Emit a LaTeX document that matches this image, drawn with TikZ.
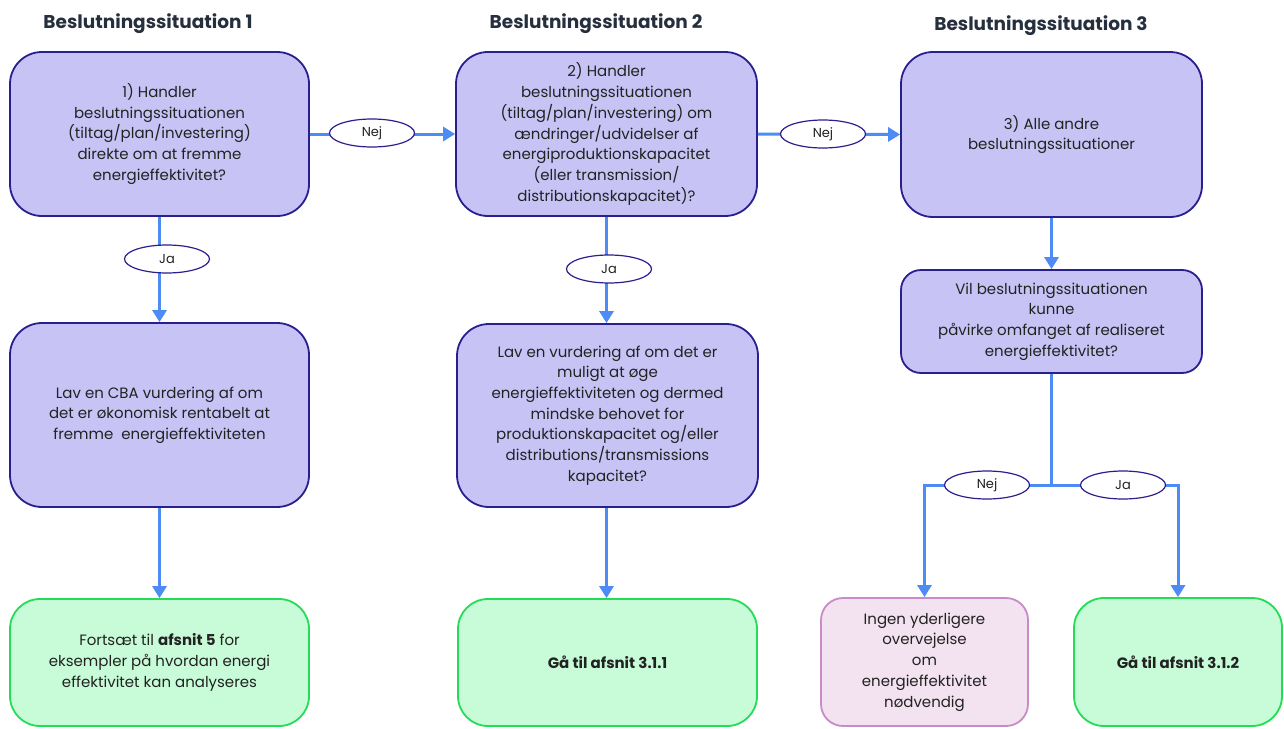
\documentclass[tikz,border=0pt]{standalone}
\usepackage{fontspec}
\setmainfont{Poppins}
\usetikzlibrary{shapes.geometric,arrows.meta}
\definecolor{lav}{HTML}{C8C3F5}
\definecolor{navy}{HTML}{2A1F8F}
\definecolor{grnfill}{HTML}{C8FCD8}
\definecolor{grnline}{HTML}{22DD55}
\definecolor{pinkfill}{HTML}{F3E3F0}
\definecolor{pinkline}{HTML}{C98BC8}
\definecolor{arrblue}{HTML}{4D8BF5}
\definecolor{titlecol}{HTML}{262F3D}
\definecolor{txt}{HTML}{222222}
\tikzset{
  boxbase/.style={rectangle, align=center, text=txt, line width=1.8pt,
    font=\fontsize{15}{20.7}\selectfont, inner sep=4pt},
  qbox/.style={boxbase, draw=navy, fill=lav, rounded corners=32pt},
  gbox/.style={boxbase, draw=grnline, fill=grnfill, rounded corners=30pt},
  pbox/.style={boxbase, draw=pinkline, fill=pinkfill, rounded corners=22pt},
  lbl/.style={ellipse, draw=navy, fill=white, line width=1.2pt, minimum width=85pt,
    minimum height=28pt, inner sep=0pt, font=\fontsize{13}{15}\selectfont, text=txt},
  conn/.style={draw=arrblue, line width=3pt},
  arr/.style={conn, -{Triangle[width=14pt,length=12pt]}},
  ttl/.style={font=\fontsize{18.5}{21}\selectfont\bfseries, text=titlecol}
}
\begin{document}
\begin{tikzpicture}[x=1pt,y=-1pt]
\path[use as bounding box, fill=white] (0,0) rectangle (1284,728);
% titles
\node[ttl] (t1) at (148,24) {Beslutningssituation 1};
\node[ttl] (t2) at (596,24) {Beslutningssituation 2};
\node[ttl] (t3) at (1041,26) {Beslutningssituation 3};
% boxes
\node[qbox, minimum width=299pt, minimum height=164pt] (b1) at (159.5,134)
  {1) Handler\\beslutningssituationen\\(tiltag/plan/investering)\\direkte om at fremme\\energieffektivitet?};
\node[qbox, minimum width=301pt, minimum height=164pt] (b2) at (606.5,134)
  {2) Handler\\beslutningssituationen\\(tiltag/plan/investering) om\\ændringer/udvidelser af\\energiproduktionskapacitet\\(eller transmission/\\distributionskapacitet)?};
\node[qbox, minimum width=301pt, minimum height=165pt] (b3) at (1051.5,134.5)
  {3) Alle andre\\beslutningssituationer};
\node[qbox, rounded corners=20pt, minimum width=301pt, minimum height=103pt] (b4) at (1051.5,321.5)
  {Vil beslutningssituationen\\kunne\\påvirke omfanget af realiseret\\energieffektivitet?};
\node[qbox, minimum width=299pt, minimum height=184pt] (b5) at (159.5,415)
  {Lav en CBA vurdering af om\\det er økonomisk rentabelt at\\fremme\ \ energieffektiviteten};
\node[qbox, minimum width=301pt, minimum height=183pt] (b6) at (607.5,415.5)
  {Lav en vurdering af om det er\\muligt at øge\\energieffektiviteten og dermed\\mindske behovet for\\produktionskapacitet og/eller\\distributions/transmissions\\kapacitet?};
\node[gbox, minimum width=299pt, minimum height=127pt] (b7) at (159.5,662.5)
  {Fortsæt til \textbf{afsnit 5} for\\eksempler på hvordan energi\\effektivitet kan analyseres};
\node[gbox, minimum width=299pt, minimum height=127pt] (b8) at (607.5,662.5)
  {\textbf{Gå til afsnit 3.1.1}};
\node[pbox, minimum width=207pt, minimum height=128pt] (b9) at (924.5,662)
  {Ingen yderligere\\overvejelse\\om\\energieffektivitet\\nødvendig};
\node[gbox, minimum width=208pt, minimum height=128pt] (b10) at (1178,662)
  {\textbf{Gå til afsnit 3.1.2}};
% connectors
\draw[arr] (b1.east) -- (b2.west);
\draw[arr] (b2.east) -- (b3.west);
\draw[arr] (b1.south) -- (b5.north);
\draw[arr] (b2.south) -- (b2.south |- b6.north);
\draw[arr] (b3.south) -- (b4.north);
\draw[arr] (b5.south) -- (b7.north);
\draw[arr] (b2.south |- b6.south) -- (b2.south |- b8.north);
\draw[conn] (b4.south) -- ++(0,112) coordinate (split);
\draw[arr] ([xshift=1.5pt]split) -| (b9.north);
\draw[arr] ([xshift=-1.5pt]split) -| (b10.north);
% labels
\node[lbl] (l1) at (372,133) {Nej};
\node[lbl] (l2) at (823,134) {Nej};
\node[lbl] (l3) at (167,259) {Ja};
\node[lbl] (l4) at (609,269) {Ja};
\node[lbl] (l5) at (987,485) {Nej};
\node[lbl] (l6) at (1123,485) {Ja};
\end{tikzpicture}
\end{document}
